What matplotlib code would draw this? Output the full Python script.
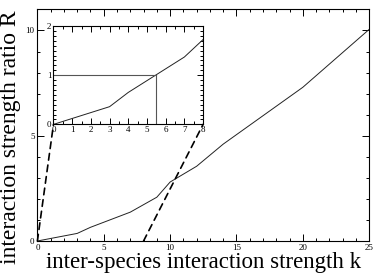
import matplotlib
matplotlib.use("Agg")
import matplotlib.pyplot as plt
from matplotlib.patches import ConnectionPatch
from matplotlib.ticker import MultipleLocator

plt.rcParams['font.family'] = ['Liberation Serif', 'DejaVu Serif']

# data
k_vals = [0, 3, 4, 7, 9, 10, 12, 14, 20, 25]
ratio_vals = [0, 0.36, 0.65, 1.37, 2.08, 2.8, 3.55, 4.6, 7.3, 10.05]
k_cross = 5.5      # where R = 1
r_cross = 1.0
zoom_k = 8         # inset x range end
zoom_r = 2         # inset y range end

line_col = '#222222'

fig = plt.figure(figsize=(3.74, 2.77), dpi=100)
ax = fig.add_axes([0.100, 0.130, 0.887, 0.836])

ax.plot(k_vals, ratio_vals, color=line_col, lw=0.7)
ax.set_xlim(0, 25)
ax.set_ylim(0, 11)
ax.xaxis.set_major_locator(MultipleLocator(5))
ax.xaxis.set_minor_locator(MultipleLocator(1))
ax.yaxis.set_major_locator(MultipleLocator(5))
ax.yaxis.set_minor_locator(MultipleLocator(1))
ax.tick_params(which='both', direction='in', top=True, right=True,
               labelsize=6.5, pad=2, width=0.7)
ax.tick_params(which='major', length=5)
ax.tick_params(which='minor', length=2.5)
for s in ax.spines.values():
    s.set_linewidth(0.8)
ax.set_xlabel("inter-species interaction strength k", fontsize=16.5, labelpad=0)
ax.set_ylabel("interaction strength ratio R", fontsize=17, labelpad=0)
ax.yaxis.set_label_coords(-0.048, 0.45)

# inset
axin = fig.add_axes([0.143, 0.551, 0.400, 0.355])
axin.plot(k_vals, ratio_vals, color=line_col, lw=0.7)
axin.plot([0, k_cross], [r_cross, r_cross], color='#555555', lw=0.8)
axin.plot([k_cross, k_cross], [0, r_cross], color='#555555', lw=0.8)
axin.set_xlim(0, zoom_k)
axin.set_ylim(0, zoom_r)
axin.xaxis.set_major_locator(MultipleLocator(1))
axin.xaxis.set_minor_locator(MultipleLocator(0.5))
axin.yaxis.set_major_locator(MultipleLocator(1))
axin.yaxis.set_minor_locator(MultipleLocator(0.1))
axin.tick_params(which='both', direction='in', top=True, right=True,
                 labelsize=6.5, pad=1.5, width=0.7)
axin.tick_params(which='major', length=4)
axin.tick_params(which='minor', length=2)
for s in axin.spines.values():
    s.set_linewidth(0.8)

# dashed connectors from main axis to inset corners
for kk in (0, zoom_k):
    con = ConnectionPatch(xyA=(kk, 0), coordsA=ax.transData,
                          xyB=(kk, 0), coordsB=axin.transData,
                          linestyle=(0, (4, 3)), color='black', lw=1.2)
    fig.add_artist(con)

fig.savefig("out.png", dpi=100)
